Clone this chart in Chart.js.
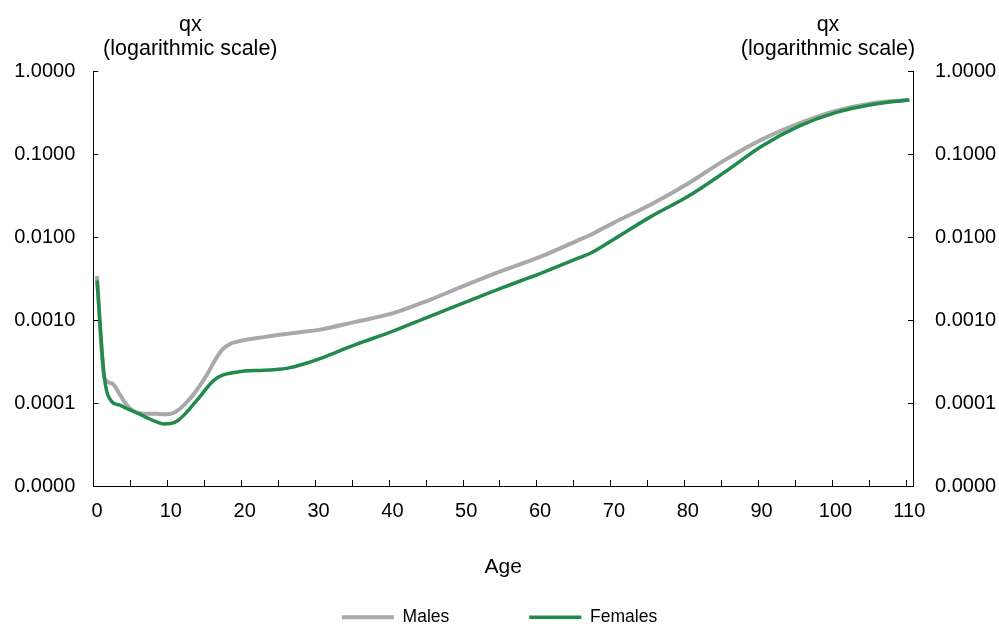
<!DOCTYPE html>
<html>
<head>
<meta charset="utf-8">
<script src="https://cdn.jsdelivr.net/npm/chart.js@4.4.1/dist/chart.umd.min.js"></script>
<style>
  html, body { margin: 0; padding: 0; background: #fff; }
  #wrap { width: 999px; height: 624px; position: relative; }
</style>
</head>
<body>
<div id="wrap"><canvas id="myChart"></canvas></div>
<script>
    // ages (denser where the curves bend)
    var ages = [0, 1, 2, 3, 4, 5, 6, 7, 8, 9, 10, 11, 12, 13, 14, 15, 16, 17, 18, 19, 20,
        22, 24, 26, 28, 30, 35, 40, 45, 50, 55, 60, 65, 67, 70, 75, 80, 85, 90, 95, 100, 105, 110];

    var males = [0.0034, 0.00020, 0.000173, 0.000131, 0.000095, 0.000079, 0.000075, 0.000074, 0.000074, 0.000073, 0.000074,
        0.000082, 0.000099, 0.000125, 0.000165, 0.000228, 0.00033, 0.000443, 0.000514, 0.000548, 0.000574,
        0.00061, 0.00065, 0.000685, 0.00072, 0.00076, 0.00095, 0.0012, 0.00174, 0.00265, 0.00395, 0.00575, 0.0090, 0.0108,
        0.0149, 0.0247, 0.0439, 0.0843, 0.149, 0.232, 0.330, 0.410, 0.450];

    var females = [0.0030, 0.000205, 0.000104, 0.000095, 0.000086, 0.000079, 0.000072, 0.000065, 0.0000595, 0.000056, 0.0000565,
        0.000062, 0.000075, 0.000095, 0.000121, 0.000157, 0.000193, 0.000217, 0.000228, 0.000236, 0.000243,
        0.000247, 0.000252, 0.000265, 0.000295, 0.000338, 0.000506, 0.000728, 0.00110, 0.00165, 0.00247, 0.00362, 0.00548, 0.0065,
        0.0094, 0.0176, 0.0307, 0.0604, 0.124, 0.215, 0.315, 0.395, 0.448];

    var xLabels = [0, 10, 20, 30, 40, 50, 60, 70, 80, 90, 100, 110];
    var yTicks = [0.00001, 0.0001, 0.001, 0.01, 0.1, 1];
    var yTitle = ['qx', '(logarithmic scale)'];

    var fontFamily = '"Liberation Sans", Arial, sans-serif';

    function points(values) {
        return ages.map(function (a, i) { return { x: a, y: values[i] }; });
    }

    // small tick marks drawn inside the plot, plus the two axis captions
    var innerTicks = {
        id: 'innerTicks',
        afterDraw: function (chart) {
            var ctx = chart.ctx, area = chart.chartArea;
            var xs = chart.scales.x, ys = chart.scales.y;
            ctx.save();
            ctx.strokeStyle = '#000';
            ctx.lineWidth = 1;
            ctx.beginPath();
            for (var k = 1; k < 23; k++) {
                var px = Math.round(xs.getPixelForValue(k * 5 - 0.5)) + 0.5;
                ctx.moveTo(px, area.bottom);
                ctx.lineTo(px, area.bottom - 6);
            }
            yTicks.forEach(function (v) {
                var py = Math.round(ys.getPixelForValue(v)) + 0.5;
                ctx.moveTo(area.left, py);
                ctx.lineTo(area.left + 5, py);
                ctx.moveTo(area.right, py);
                ctx.lineTo(area.right - 5, py);
            });
            ctx.stroke();

            ctx.fillStyle = '#000';
            ctx.font = '21.5px ' + fontFamily;
            ctx.textAlign = 'center';
            ctx.textBaseline = 'middle';
            yTitle.forEach(function (t, i) {
                ctx.fillText(t, area.left + 97, 25 + i * 24);
                ctx.fillText(t, area.right - 85, 25 + i * 24);
            });
            ctx.restore();
        }
    };

    function logAxis(pos, width, pad) {
        return {
            type: 'logarithmic',
            position: pos,
            min: 0.00001,
            max: 1,
            afterBuildTicks: function (s) { s.ticks = yTicks.map(function (v) { return { value: v }; }); },
            afterFit: function (s) { s.width = width; },
            grid: { display: false, drawTicks: false },
            border: { color: '#000', width: 1 },
            ticks: {
                padding: pad,
                color: '#000',
                font: { family: fontFamily, size: 20 },
                callback: function (v) { return Number(v).toFixed(4); }
            }
        };
    }

    var ctx = document.getElementById('myChart').getContext('2d');
    var chart = new Chart(ctx, {
        type: 'line',
        data: {
            datasets: [{
                label: 'Males',
                data: points(males),
                borderColor: '#a9a9a9',
                backgroundColor: '#a9a9a9',
                borderWidth: 4,
                pointRadius: 0,
                cubicInterpolationMode: 'monotone',
                order: 1
            }, {
                label: 'Females',
                data: points(females),
                borderColor: '#218a4c',
                backgroundColor: '#218a4c',
                borderWidth: 3.5,
                pointRadius: 0,
                cubicInterpolationMode: 'monotone',
                order: 0
            }]
        },
        options: {
            responsive: true,
            maintainAspectRatio: false,
            animation: false,
            events: [],
            layout: { padding: { top: 71, left: 0, right: 0, bottom: 0 } },
            plugins: {
                tooltip: { enabled: false },
                legend: {
                    position: 'bottom',
                    maxHeight: 95.5,
                    labels: {
                        usePointStyle: true,
                        pointStyle: 'line',
                        pointStyleWidth: 52,
                        padding: 80,
                        color: '#000',
                        font: { family: fontFamily, size: 17.5 },
                        sort: function (a, b) { return a.datasetIndex - b.datasetIndex; }
                    }
                }
            },
            scales: {
                x: {
                    type: 'linear',
                    min: -0.5,
                    max: 110.5,
                    bounds: 'data',
                    afterBuildTicks: function (s) { s.ticks = xLabels.map(function (v) { return { value: v }; }); },
                    afterFit: function (s) { s.height = 42.5; },
                    grid: { display: false, drawTicks: false },
                    border: { color: '#000', width: 1 },
                    ticks: {
                        padding: 13,
                        autoSkip: false,
                        maxRotation: 0,
                        color: '#000',
                        font: { family: fontFamily, size: 20 },
                        callback: function (v) { return String(v); }
                    },
                    title: {
                        display: true,
                        text: 'Age',
                        color: '#000',
                        font: { family: fontFamily, size: 21 },
                        padding: { top: 33, bottom: -51.5 }
                    }
                },
                y: logAxis('left', 93.3, 18),
                y2: logAxis('right', 86, 22)
            }
        },
        plugins: [innerTicks]
    });
</script>
</body>
</html>
